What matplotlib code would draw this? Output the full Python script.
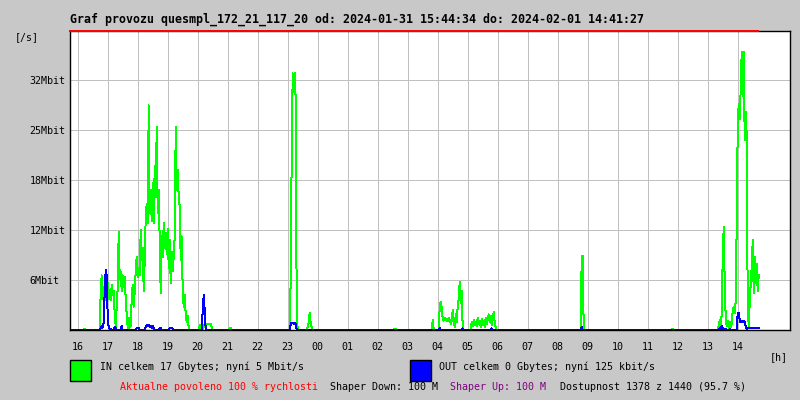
import numpy as np
import matplotlib
matplotlib.use('Agg')
import matplotlib.pyplot as plt
from matplotlib.patches import Rectangle

# Chart texts
title = 'Graf provozu quesmpl_172_21_117_20 od: 2024-01-31 15:44:34 do: 2024-02-01 14:41:27'
in_label = 'IN celkem 17 Gbytes; nyní 5 Mbit/s'
out_label = 'OUT celkem 0 Gbytes; nyní 125 kbit/s'
y_ticks = [6.4, 12.8, 19.2, 25.6, 32.0]
y_tick_labels = ['6Mbit', '12Mbit', '18Mbit', '25Mbit', '32Mbit']
hour_ticks = list(range(16, 39))
start_time = '15:44:34'
end_time = '14:41:27'

# Traffic in Mbit/s, sampled every 2 minutes, grouped into active periods
# (everything outside these periods is zero)
in_segments = {
    '16:14': [0.15, 0],
    '16:44': [0, 5.0, 7.0, 4.0, 5.5, 3.8, 6.4, 3.0, 6.0, 4.0, 5.2, 3.8, 5.8, 4.5, 5.0, 2.0,
              0.5, 3.0, 5.5, 12.6, 6.5, 7.4, 5.0, 7.0, 5.5, 6.8, 4.0, 2.0, 0.3, 1.5,
              0.3, 0.5, 4.0, 5.8, 3.0, 5.0, 7.5, 9.4, 6.8, 8.0, 7.0, 12.8, 9.0, 10.5, 5.0,
              9.0, 14.5, 16.2, 13.7, 28.8, 15.0, 18.0, 14.0, 18.8, 13.7, 21.0, 17.0, 26.0, 15.0,
              18.0, 11.0, 4.7, 12.0, 9.4, 13.7, 10.5, 12.5, 9.8, 13.0, 8.0, 11.5, 6.0, 10.0,
              7.5, 9.5, 12.0, 26.1, 18.0, 20.5, 17.0, 15.8, 9.0, 12.0, 5.0, 3.0, 4.5, 2.0,
              1.0, 1.8, 0.3, 0],
    '20:04': [0.6, 0.6, 0, 0, 0.4, 0.75, 0.75, 0.75, 0.75, 0.75, 0.75, 0.75, 0.3, 0],
    '21:04': [0.3, 0.3, 0],
    '23:04': [0, 6.8, 23.0, 32.9, 30.5, 33.0, 29.5, 2.0, 0],
    '23:38': [0, 0.4, 1.0, 2.2, 0.8, 0.3, 0],
    '02:34': [0.15, 0.15, 0],
    '03:48': [0, 1.3, 0, 0, 0, 0, 0, 0, 3.0, 3.6, 2.8, 1.5, 1.2, 1.5, 1.3, 1.4, 1.1, 1.5,
              1.3, 0.8, 1.2, 2.6, 1.0, 0.4, 2.0, 1.0, 3.0, 4.0, 6.2, 3.5, 5.0, 0.2, 0],
    '05:06': [0, 1.0, 0.5, 1.3, 0.6, 1.0, 0.5, 1.5, 0.8, 1.2, 0.4, 1.4, 0.7, 1.1, 0.4, 1.6,
              0.8, 1.3, 2.0, 1.0, 1.8, 0.6, 1.5, 2.3, 1.0, 0.3, 0],
    '08:46': [0, 9.5, 9.5, 0],
    '11:50': [0.15, 0],
    '13:20': [0, 0.5, 1.3, 0.6, 2.0, 9.4, 13.2, 6.0, 1.5, 0.5, 1.2, 0.3, 1.0, 0.4, 0.8, 2.5,
              3.0, 2.2, 3.8, 13.7, 26.0, 29.0, 27.0, 31.0, 35.7, 30.0, 35.7, 24.3, 28.0, 25.0,
              3.0, 0.5, 3.5, 6.0, 8.0, 11.5, 4.7, 9.4, 6.0, 8.5, 5.0, 7.0],
}

out_segments = {
    '16:44': [0, 0.2, 0.5, 0.3, 1.0, 5.0, 7.7, 7.0, 1.5, 0.3, 0.2, 0.1, 0],
    '17:14': [0.4, 0.3, 0],
    '17:28': [0.5, 0],
    '17:58': [0.3, 0.2, 0.3, 0],
    '18:16': [0.4, 0.6, 0.5, 0.6, 0.4, 0.5, 0.3, 0.5, 0.3, 0],
    '18:44': [0.3, 0.3, 0],
    '19:04': [0.3, 0.3, 0.3, 0.2, 0],
    '20:08': [0, 2.5, 4.5, 2.4, 0],
    '23:06': [0.8, 0.9, 0.9, 0.8, 0.9, 0.8, 0],
    '04:04': [0.3, 0],
    '04:50': [0.2, 0],
    '05:48': [0.2, 0],
    '08:48': [0.4, 0],
    '13:24': [0.2, 0, 0.5, 0.3, 0.1, 0, 0.1, 0, 0, 0, 0.1, 0, 0, 0, 0, 0, 0, 0.1, 2.2, 2.2,
              1.2, 1.0, 1.2, 1.0, 1.2, 1.0, 0.5, 0.1, 0.2, 0.2, 0.2, 0.2, 0.2, 0.2, 0.2, 0.2,
              0.2, 0.2, 0.2, 0.2],
}

STEP = 2 / 60  # sample spacing in hours


def to_hours(s):
    parts = [int(p) for p in s.split(':')]
    h = parts[0] + parts[1] / 60 + (parts[2] / 3600 if len(parts) > 2 else 0)
    # hours before the start belong to the next day
    return h + 24 if h < 15 else h


def build_series(segments):
    t = [to_hours(start_time)]
    v = [0.0]
    for start, vals in segments.items():
        t0 = to_hours(start)
        # zero sample right before each active period
        t.append(t0 - STEP)
        v.append(0.0)
        t.extend(t0 + np.arange(len(vals)) * STEP)
        v.extend(vals)
    return np.array(t), np.array(v)


t_in, v_in = build_series(in_segments)
t_out, v_out = build_series(out_segments)

t_start = to_hours(start_time)
t_end = to_hours(end_time)

mono = 'DejaVu Sans Mono'
bg = '#c8c8c8'
px = 0.72  # one pixel in points at 100 dpi
fs = 7.2

fig = plt.figure(figsize=(8, 4), dpi=100, facecolor=bg)
ax = fig.add_axes([70 / 800, 70 / 400, 720 / 800, 299.5 / 400])
ax.set_facecolor('white')

ax.plot(t_in, v_in, color='#00ff00', lw=px, antialiased=False, zorder=3)
ax.plot(t_out, v_out, color='#0000ff', lw=px, antialiased=False, zorder=4)

ax.set_xlim(t_start, t_start + 24)
ax.set_ylim(0, 38.4)

# limit line along the top edge
ax.plot([t_start, t_end], [38.3, 38.3], color='#ff0000', lw=2 * px,
        clip_on=False, antialiased=False, zorder=6)

ax.set_xticks(hour_ticks)
ax.set_xticklabels(['%02d' % (h % 24) for h in hour_ticks], fontsize=fs, family=mono)
ax.set_yticks(y_ticks)
ax.set_yticklabels(y_tick_labels, fontsize=fs, family=mono, ha='left')
ax.tick_params(axis='x', length=0, pad=9)
ax.tick_params(axis='y', length=0, pad=29)
ax.grid(True, color='#c0c0c0', lw=px, antialiased=False)
ax.set_axisbelow(True)
for sp in ax.spines.values():
    sp.set_color('black')
    sp.set_linewidth(px * 1.4)
    sp.set_zorder(5)

fig.text(70 / 800, 1 - 19.5 / 400, title, ha='left', va='center',
         fontsize=8.4, weight='bold', family=mono)
fig.text(15 / 800, 1 - 37.5 / 400, '[/s]', ha='left', va='center', fontsize=fs, family=mono)
fig.text(770 / 800, 1 - 357 / 400, '[h]', ha='left', va='center', fontsize=fs, family=mono)

# legend boxes
fig.add_artist(Rectangle((70 / 800, 1 - 381 / 400), 21 / 800, 21 / 400,
                         facecolor='#00ff00', edgecolor='black', lw=1.4 * px,
                         transform=fig.transFigure))
fig.add_artist(Rectangle((410 / 800, 1 - 381 / 400), 21 / 800, 21 / 400,
                         facecolor='#0000ff', edgecolor='black', lw=1.4 * px,
                         transform=fig.transFigure))
fig.text(100 / 800, 1 - 367 / 400, in_label, ha='left', va='center', fontsize=fs, family=mono)
fig.text(439 / 800, 1 - 367 / 400, out_label, ha='left', va='center', fontsize=fs, family=mono)

# status line
fig.text(120 / 800, 1 - 387 / 400, 'Aktualne povoleno 100 % rychlosti', color='#ff0000',
         ha='left', va='center', fontsize=fs, family=mono)
fig.text(330 / 800, 1 - 387 / 400, 'Shaper Down: 100 M', color='black',
         ha='left', va='center', fontsize=fs, family=mono)
fig.text(450 / 800, 1 - 387 / 400, 'Shaper Up: 100 M', color='#800080',
         ha='left', va='center', fontsize=fs, family=mono)
fig.text(560 / 800, 1 - 387 / 400, 'Dostupnost 1378 z 1440 (95.7 %)', color='black',
         ha='left', va='center', fontsize=fs, family=mono)

fig.savefig('out.png', dpi=100, facecolor=bg)
